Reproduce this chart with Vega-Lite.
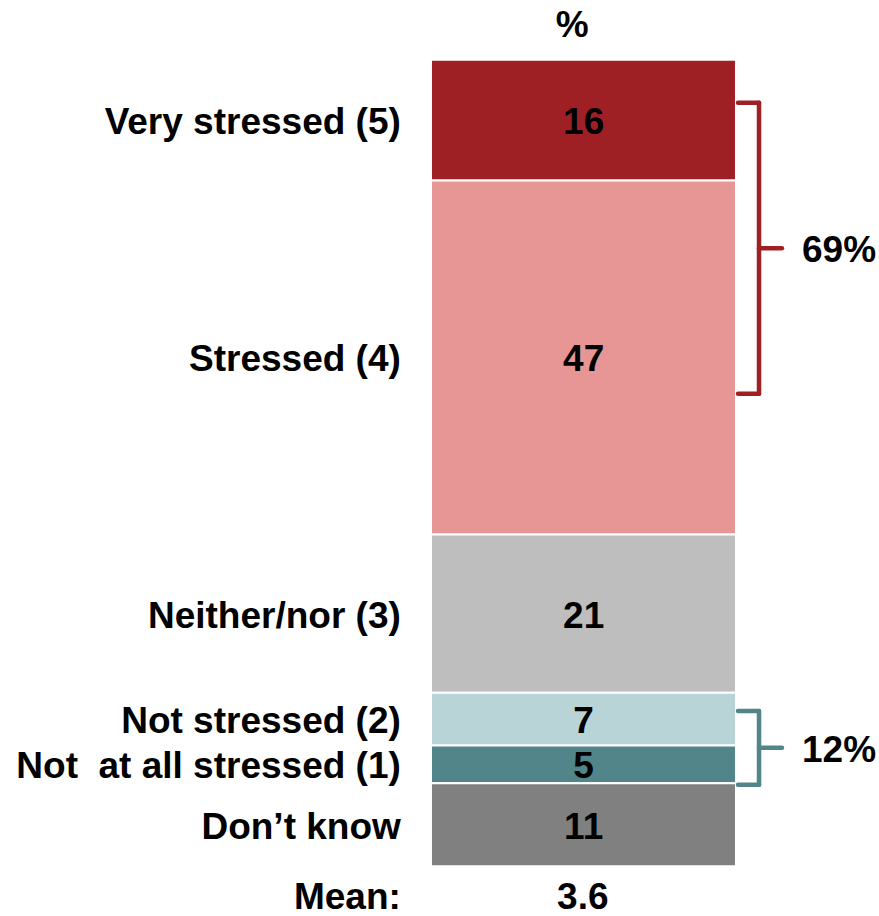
{
  "$schema": "https://vega.github.io/schema/vega-lite/v6.json",
  "width": 879,
  "height": 916,
  "autosize": {"type": "fit", "contains": "padding"},
  "padding": 0,
  "background": "white",
  "config": {
    "view": {"stroke": null},
    "text": {"font": "Liberation Sans", "fontWeight": "bold", "fontSize": 37, "color": "black", "baseline": "middle", "dy": 3}
  },
  "datasets": {
    "responses": [
      {"label": "Very stressed (5)", "value": 16, "rank": 1},
      {"label": "Stressed (4)", "value": 47, "rank": 2},
      {"label": "Neither/nor (3)", "value": 21, "rank": 3},
      {"label": "Not stressed (2)", "value": 7, "rank": 4},
      {"label": "Not\u00a0 at all stressed (1)", "value": 5, "rank": 5},
      {"label": "Don’t know", "value": 11, "rank": 6}
    ],
    "brackets": [
      {"share": "69%", "group": "Stressed", "top": 5.7, "mid": 25.0, "bottom": 44.3},
      {"share": "12%", "group": "Not stressed", "top": 86.4, "mid": 91.3, "bottom": 96.2}
    ],
    "summary": [{"header": "%", "caption": "Mean:", "mean": "3.6"}]
  },
  "layer": [
    {
      "data": {"name": "responses"},
      "transform": [
        {"stack": "value", "groupby": [], "sort": [{"field": "rank", "order": "ascending"}], "as": ["y0", "y1"]}
      ],
      "mark": {"type": "bar", "stroke": "white", "strokeWidth": 2},
      "encoding": {
        "x": {"datum": 49.03, "type": "quantitative", "scale": {"domain": [0, 100], "nice": false, "zero": false}, "axis": null},
        "x2": {"datum": 83.73},
        "y": {"field": "y0", "type": "quantitative", "scale": {"domain": [-7.936, 113.217], "reverse": true, "nice": false, "zero": false}, "axis": null},
        "y2": {"field": "y1"},
        "color": {
          "field": "label",
          "type": "nominal",
          "scale": {
            "domain": ["Very stressed (5)", "Stressed (4)", "Neither/nor (3)", "Not stressed (2)", "Not\u00a0 at all stressed (1)", "Don’t know"],
            "range": ["#9E2024", "#E89596", "#BDBEBD", "#B8D4D7", "#52858A", "#808080"]
          },
          "legend": null
        }
      }
    },
    {
      "data": {"name": "responses"},
      "mark": {"type": "text", "align": "center"},
      "encoding": {
        "x": {"datum": 66.4, "type": "quantitative"},
        "y": {"field": "value", "type": "quantitative", "stack": "zero", "bandPosition": 0.5},
        "detail": {"field": "label"},
        "order": {"field": "rank"},
        "text": {"field": "value"}
      }
    },
    {
      "data": {"name": "responses"},
      "mark": {"type": "text", "align": "right"},
      "encoding": {
        "x": {"datum": 45.6, "type": "quantitative"},
        "y": {"field": "value", "type": "quantitative", "stack": "zero", "bandPosition": 0.5},
        "detail": {"field": "label"},
        "order": {"field": "rank"},
        "text": {"field": "label"}
      }
    },
    {
      "data": {"name": "brackets"},
      "mark": {"type": "rule", "strokeWidth": 4.5, "strokeCap": "round"},
      "encoding": {
        "x": {"datum": 86.35, "type": "quantitative"},
        "y": {"field": "top", "type": "quantitative"},
        "y2": {"field": "bottom"},
        "stroke": {"field": "group", "type": "nominal", "scale": {"domain": ["Stressed", "Not stressed"], "range": ["#9E2024", "#52858A"]}, "legend": null}
      }
    },
    {
      "data": {"name": "brackets"},
      "mark": {"type": "rule", "strokeWidth": 4.5, "strokeCap": "round"},
      "encoding": {
        "x": {"datum": 83.96, "type": "quantitative"},
        "x2": {"datum": 86.35},
        "y": {"field": "top", "type": "quantitative"},
        "stroke": {"field": "group", "type": "nominal", "legend": null}
      }
    },
    {
      "data": {"name": "brackets"},
      "mark": {"type": "rule", "strokeWidth": 4.5, "strokeCap": "round"},
      "encoding": {
        "x": {"datum": 83.96, "type": "quantitative"},
        "x2": {"datum": 86.35},
        "y": {"field": "bottom", "type": "quantitative"},
        "stroke": {"field": "group", "type": "nominal", "legend": null}
      }
    },
    {
      "data": {"name": "brackets"},
      "mark": {"type": "rule", "strokeWidth": 4.5, "strokeCap": "round"},
      "encoding": {
        "x": {"datum": 86.35, "type": "quantitative"},
        "x2": {"datum": 88.96},
        "y": {"field": "mid", "type": "quantitative"},
        "stroke": {"field": "group", "type": "nominal", "legend": null}
      }
    },
    {
      "data": {"name": "brackets"},
      "mark": {"type": "text", "align": "left"},
      "encoding": {
        "x": {"datum": 91.24, "type": "quantitative"},
        "y": {"field": "mid", "type": "quantitative"},
        "text": {"field": "share"}
      }
    },
    {
      "data": {"name": "summary"},
      "mark": {"type": "text", "align": "center"},
      "encoding": {
        "x": {"datum": 65.1, "type": "quantitative"},
        "y": {"datum": -4.83, "type": "quantitative"},
        "text": {"field": "header"}
      }
    },
    {
      "data": {"name": "summary"},
      "mark": {"type": "text", "align": "right"},
      "encoding": {
        "x": {"datum": 45.6, "type": "quantitative"},
        "y": {"datum": 110.83, "type": "quantitative"},
        "text": {"field": "caption"}
      }
    },
    {
      "data": {"name": "summary"},
      "mark": {"type": "text", "align": "center"},
      "encoding": {
        "x": {"datum": 66.3, "type": "quantitative"},
        "y": {"datum": 110.83, "type": "quantitative"},
        "text": {"field": "mean"}
      }
    }
  ]
}
